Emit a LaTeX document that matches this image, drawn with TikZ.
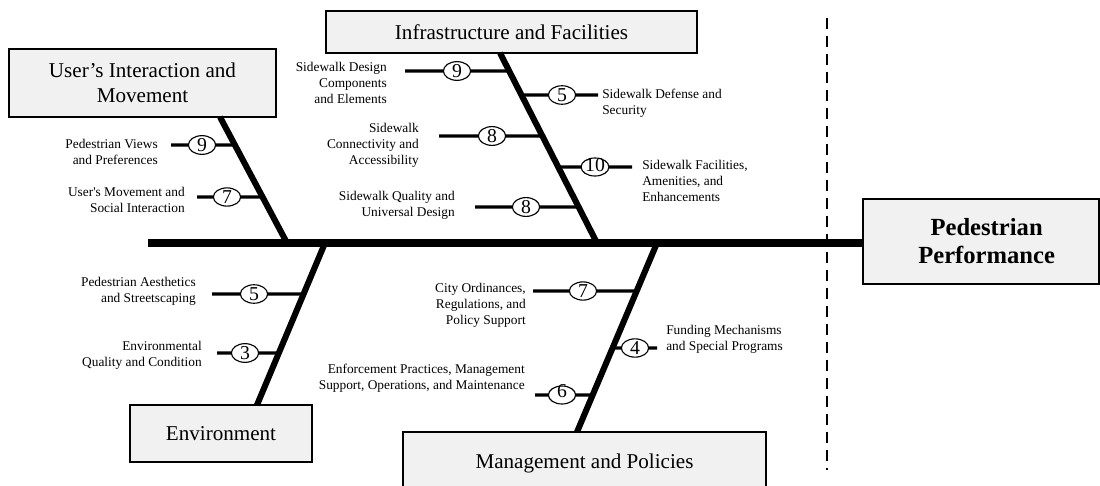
\documentclass[tikz,border=0pt]{standalone}
\usepackage{fontspec}
\setmainfont{Liberation Serif}
\usetikzlibrary{shapes.geometric,positioning}
\definecolor{boxgray}{RGB}{241,241,241}
\tikzset{
  catbox/.style={draw=black,line width=1pt,fill=boxgray,align=center,inner sep=0pt,font=\fontsize{15}{18}\selectfont},
  spine/.style={line width=5pt},
  bone/.style={line width=4.3pt},
  ribline/.style={line width=2.4pt},
  score/.style={ellipse,draw=black,line width=0.8pt,fill=white,minimum width=0.68cm,minimum height=0.45cm,inner sep=0pt,font=\fontsize{14}{14}\selectfont},
  cause/.style={inner sep=0pt,font=\fontsize{9.5}{11.2}\selectfont}
}
\begin{document}
\begin{tikzpicture}[x=0.025cm,y=-0.025cm]
  \useasboundingbox (0,0) rectangle (1100,486);
  % category boxes
  \node[catbox,minimum width=6.675cm,minimum height=1.7cm] (users) at (142.5,83) {User’s Interaction and\\Movement};
  \node[catbox,minimum width=9.275cm,minimum height=1.05cm] (infra) at (511.5,32) {Infrastructure and Facilities};
  \node[catbox,minimum width=4.55cm,minimum height=1.425cm] (env) at (221,433.5) {Environment};
  \node[catbox,minimum width=9.075cm,minimum height=1.55cm] (mgmt) at (584.5,463) {Management and Policies};
  \node[catbox,minimum width=5.9cm,minimum height=2.125cm,font=\fontsize{17.5}{20}\selectfont\bfseries] (perf) at (981,241.5) {\hspace*{8pt}Pedestrian\\\hspace*{8pt}Performance};
  % spine and dashed divider
  \coordinate (tail) at (148,243);
  \coordinate (dtop) at (827,18);
  \coordinate (dbot) at (827,470);
  \draw[spine] (tail) -- (tail -| perf.west);
  \draw[line width=1.4pt,dash pattern=on 7.8pt off 5pt] (dtop) -- (dbot);
  % bones
  \coordinate (ua) at (220,117);  \coordinate (ub) at (287,243);
  \coordinate (ia) at (500,53);   \coordinate (ib) at (597,243);
  \coordinate (ea) at (257,405);  \coordinate (eb) at (325,243);
  \coordinate (ma) at (577,432);  \coordinate (mb) at (657,243);
  \draw[bone] (ua) -- (ub);
  \draw[bone] (ia) -- (ib);
  \draw[bone] (ea) -- (eb);
  \draw[bone] (ma) -- (mb);
  % ribs with the label on the left
  \foreach \bn/\yy/\xf/\xe/\nn/\xl/\yl/\txt in {
      u/145/171/202/9/158/145/{Pedestrian Views\\and Preferences},
      u/197/197/227/7/185/193/{User\textquotesingle s Movement and\\Social Interaction},
      i/71/405/457/9/387/68/{Sidewalk Design\\Components\\and Elements},
      i/136/439/492/8/419/129/{Sidewalk\\Connectivity and\\Accessibility},
      i/207/475/526/8/455/197/{Sidewalk Quality and\\Universal Design},
      e/294/212/254/5/196/283/{Pedestrian Aesthetics\\and Streetscaping},
      e/353/217/245/3/202/347/{Environmental\\Quality and Condition},
      m/291/533/583/7/526/289/{City Ordinances,\\Regulations, and\\Policy Support},
      m/395/535/562/{\smash{\raisebox{-1.5pt}{6}}}/525/370/{Enforcement Practices, Management\\Support, Operations, and Maintenance}} {
    \coordinate (att-\bn\yy) at (intersection of \bn a--\bn b and 0,\yy--1,\yy);
    \coordinate (end-\bn\yy) at (\xf,\yy);
    \draw[ribline] (att-\bn\yy) -- (end-\bn\yy);
    \node[score] (sc-\bn\yy) at (\xe,\yy) {\nn};
    \node[cause,align=right,anchor=north east] (lb-\bn\yy) at (\xl,\yl-6) {\txt};
  }
  % ribs with the label on the right
  \foreach \bn/\yy/\xf/\xe/\nn/\xl/\yl/\txt in {
      i/95/598/562/5/602/95/{Sidewalk Defense and\\Security},
      i/167/632/595/{\smash{\raisebox{-3.5pt}{10}}}/642/166/{Sidewalk Facilities,\\Amenities, and\\Enhancements},
      m/348/657/635/4/666/331/{Funding Mechanisms\\and Special Programs}} {
    \coordinate (att-\bn\yy) at (intersection of \bn a--\bn b and 0,\yy--1,\yy);
    \coordinate (end-\bn\yy) at (\xf,\yy);
    \draw[ribline] (att-\bn\yy) -- (end-\bn\yy);
    \node[score] (sc-\bn\yy) at (\xe,\yy) {\nn};
    \node[cause,align=left,anchor=north west] (lb-\bn\yy) at (\xl,\yl-6) {\txt};
  }
\end{tikzpicture}
\end{document}
